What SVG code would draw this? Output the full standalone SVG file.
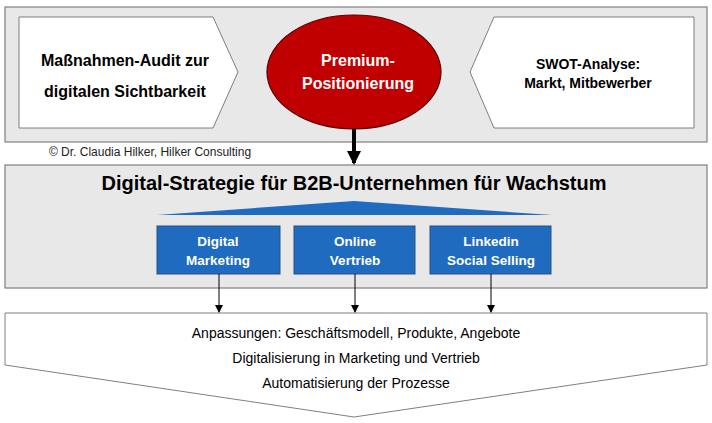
<svg xmlns="http://www.w3.org/2000/svg" width="712" height="423" viewBox="0 0 712 423">
<defs>
<style>
.gray{fill:#e8e8e8;stroke:#7f7f7f;stroke-width:1.2}
.white{fill:#fff;stroke:#7f7f7f;stroke-width:1}
.blue{fill:#1f6bbf;stroke:#2f4f7f;stroke-width:1}
text{font-family:"Liberation Sans",Arial,sans-serif;text-anchor:middle}
.b{font-weight:bold}
</style>
<marker id="ah" markerWidth="8" markerHeight="8" refX="7" refY="4" orient="auto" markerUnits="userSpaceOnUse"><path d="M0,0L8,4L0,8z" fill="#000"/></marker>
<marker id="ahb" markerWidth="14" markerHeight="14" refX="12" refY="7" orient="auto" markerUnits="userSpaceOnUse"><path d="M0,0L14,7L0,14z" fill="#000"/></marker>
</defs>
<rect class="gray" x="5" y="7" width="702" height="135"/>
<rect class="gray" x="5" y="165" width="702" height="123"/>
<g id="audit"><path class="white" d="M19,17H213L238,72L213,128H19z"/>
<text class="b" x="125" y="66" font-size="16">Maßnahmen-Audit zur</text>
<text class="b" x="125" y="97" font-size="16">digitalen Sichtbarkeit</text></g>
<g id="swot"><path class="white" d="M694,17H494L470,72L494,128H694z"/>
<text class="b" x="588" y="69" font-size="14">SWOT-Analyse:</text>
<text class="b" x="588" y="88" font-size="14">Markt, Mitbewerber</text></g>
<g id="premium"><ellipse cx="354" cy="72" rx="87" ry="57" fill="#c00000" stroke="#5a0000" stroke-width="1.2"/>
<text class="b" x="358" y="66" font-size="16" fill="#fff">Premium-</text>
<text class="b" x="358" y="89" font-size="16" fill="#fff">Positionierung</text></g>
<text x="150" y="156" font-size="12" fill="#222">© Dr. Claudia Hilker, Hilker Consulting</text>
<g id="strategie"><text class="b" x="354" y="190" font-size="20">Digital-Strategie für B2B-Unternehmen für Wachstum</text>
<path d="M157,215L354,201L552,215z" fill="#1f6bbf"/></g>
<g id="marketing"><rect class="blue" x="157" y="226" width="123" height="48"/>
<text class="b" x="218" y="246" font-size="13.5" fill="#fff">Digital</text>
<text class="b" x="218" y="265" font-size="13.5" fill="#fff">Marketing</text></g>
<g id="vertrieb"><rect class="blue" x="294" y="226" width="121" height="48"/>
<text class="b" x="355" y="246" font-size="13.5" fill="#fff">Online</text>
<text class="b" x="355" y="265" font-size="13.5" fill="#fff">Vertrieb</text></g>
<g id="linkedin"><rect class="blue" x="430" y="226" width="121" height="48"/>
<text class="b" x="491" y="246" font-size="13.5" fill="#fff">Linkedin</text>
<text class="b" x="491" y="265" font-size="13.5" fill="#fff">Social Selling</text></g>
<g id="result"><path class="white" d="M5,313H707V365L354,417L5,365z"/>
<text x="356" y="338" font-size="14">Anpassungen: Geschäftsmodell, Produkte, Angebote</text>
<text x="356" y="363" font-size="14">Digitalisierung in Marketing und Vertrieb</text>
<text x="356" y="388" font-size="14">Automatisierung der Prozesse</text></g>
<g id="connectors" stroke="#000">
<line x1="354" y1="129" x2="354" y2="163" stroke-width="4" marker-end="url(#ahb)"/>
<line x1="219" y1="274" x2="219" y2="312" marker-end="url(#ah)"/>
<line x1="355" y1="274" x2="355" y2="312" marker-end="url(#ah)"/>
<line x1="491" y1="274" x2="491" y2="312" marker-end="url(#ah)"/>
</g>
</svg>
